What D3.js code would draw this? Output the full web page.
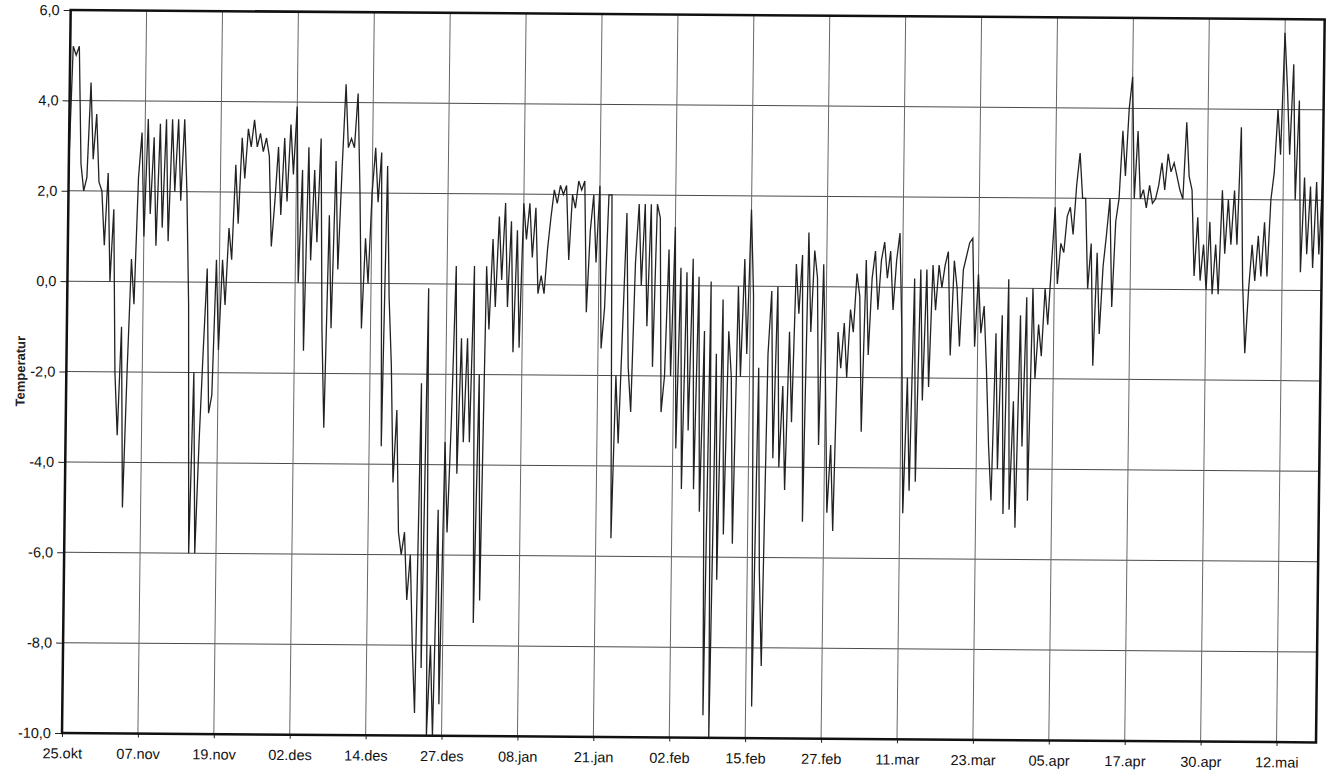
<!DOCTYPE html>
<html><head><meta charset="utf-8">
<script src="https://cdn.jsdelivr.net/npm/d3@7"></script>
<style>body{margin:0;background:#fff}svg{display:block}</style>
</head><body><svg id="c" width="1332" height="776"></svg>
<script>
// x tick labels, one every 12.5 days (every 25 samples)
const xTickLabels = ["25.okt","07.nov","19.nov","02.des","14.des","27.des","08.jan","21.jan","02.feb","15.feb","27.feb","11.mar","23.mar","05.apr","17.apr","30.apr","12.mai"];
const tickStepDays = 12.5;
const totalDays = 206.5;
const samplesPerDay = 2;
const yTickValues = [6,4,2,0,-2,-4,-6,-8,-10];
const yTitle = "Temperatur";

// temperature readings, two per day
const temperatur = [
 2.6,5.2,5.0,5.2,2.6,2.0,2.3,4.4,2.7,3.7,2.2,2.0,0.8,2.4,0.0,1.6,-2.0,-3.4,-1.0,-5.0,-2.0,0.5,-0.5,2.3,3.3,
 1.0,3.6,1.5,3.2,0.8,3.5,1.2,3.6,0.9,3.6,2.0,3.6,1.8,3.6,2.0,-0.5,-6.0,-2.0,-6.0,-3.5,-1.5,0.3,-2.9,-2.5,0.5,
 -1.5,0.5,-0.5,1.2,0.5,2.6,1.3,3.2,2.3,3.4,3.0,3.6,3.0,3.3,2.9,3.2,2.8,0.8,1.8,3.0,1.5,3.2,1.8,3.5,2.4,
 3.9,0.0,2.5,-1.5,3.0,0.5,2.5,0.9,3.2,-1.0,-3.2,1.5,-1.0,2.7,0.3,2.5,4.4,3.0,3.2,3.0,4.2,2.0,-1.0,1.0,0.0,
 2.0,3.0,1.8,2.9,-3.6,2.6,-0.3,-1.8,-4.4,-2.8,-5.5,-6.0,-5.5,-7.0,-6.0,-8.0,-9.5,-2.2,-8.5,-0.1,-10.0,-8.0,-10.0,-5.0,-9.3,
 -3.5,-5.5,-3.0,0.4,-4.2,-1.2,-3.5,-1.2,-3.5,0.4,-7.5,-2.0,-7.0,0.4,-1.0,1.0,-0.5,1.5,0.1,1.8,-0.5,1.4,-1.5,1.2,-1.4,
 1.8,1.0,1.8,0.6,1.7,-0.2,0.2,-0.2,0.8,1.5,2.1,1.8,2.2,2.0,2.2,0.55,2.0,1.7,2.3,2.1,2.3,-0.6,1.2,2.0,0.5,
 2.2,-1.4,-0.5,2.0,2.0,-5.6,-2.0,-3.5,-1.0,1.6,-1.8,-2.8,0.5,1.8,0.0,1.8,-0.9,1.8,-1.8,1.8,1.5,-2.8,-2.0,0.8,-2.0,
 1.3,-3.6,0.4,-4.5,0.3,-3.2,0.6,-4.5,0.2,-5.0,-1.0,-9.5,0.1,-10.0,-1.5,-6.5,-0.3,-5.5,-1.0,-2.0,-5.7,0.0,-2.0,0.6,-1.5,
 1.7,-0.2,-9.3,-1.8,-6.3,-8.4,-1.5,-0.1,-3.8,0.0,-4.0,-2.2,-4.5,-1.0,-3.0,0.5,-0.6,0.7,-5.2,1.2,-1.0,0.8,0.2,-3.5,0.5,
 -2.0,-5.0,-3.5,-5.4,-1.0,-1.8,-0.8,-2.0,-0.5,-1.0,0.3,-0.2,-3.2,0.6,-1.5,0.2,0.8,-0.5,0.6,1.0,0.2,0.8,-0.5,0.6,1.2,
 -1.0,-5.0,-2.0,-4.5,0.2,-4.3,0.4,-2.5,0.4,-2.2,0.5,-0.5,0.5,0.0,0.5,0.8,-1.5,0.6,0.0,-1.3,0.4,0.7,1.0,1.1,-1.3,
 0.3,-1.0,-0.4,-1.8,-3.5,-4.7,-1.0,-4.0,-0.6,-5.0,0.2,-4.9,-2.5,-5.3,-0.6,-3.5,-0.2,-4.7,0.0,-2.0,-0.8,-1.5,0.0,-0.8,0.5,
 1.8,0.1,1.0,0.8,1.6,1.8,1.2,2.3,3.0,2.0,2.0,0.0,1.0,-1.7,0.8,-1.0,0.5,1.2,2.0,-0.4,1.5,2.0,3.5,2.5,4.0,
 4.7,2.0,3.5,2.0,2.2,1.8,2.3,1.9,2.0,2.3,2.8,2.2,3.0,2.6,2.8,2.5,2.2,2.0,3.7,2.5,2.2,0.3,1.6,0.2,1.0,
 0.0,1.5,-0.1,1.0,-0.1,2.2,0.8,2.0,1.0,2.2,1.0,3.6,0.2,-1.4,0.0,1.0,0.2,1.2,0.3,1.5,0.3,2.0,2.6,4.0,3.0,
 5.7,4.5,3.0,5.0,2.0,4.2,0.4,2.5,0.8,2.3,0.5,2.4,0.8,2.5
];

const m = {left:62, right:1316, top:10, bottom:733};
const kh = 0.0075, kv = 0.012; // slight skew of the scanned page
const svg = d3.select("#c");
const g = svg.append("g")
  .attr("transform", `matrix(1,${kh},${-kv},1,${kv*m.bottom},${-kh*m.left})`);

const x = d3.scaleLinear().domain([0, totalDays]).range([m.left, m.right]);
const y = d3.scaleLinear().domain([-10, 6]).range([m.bottom, m.top]);
const xTickDays = xTickLabels.map((d,i)=>i*tickStepDays);
const fmt = d => (d<0?"-":"") + Math.abs(d).toFixed(1).replace(".", ",");
const font = "'Liberation Sans', Arial, sans-serif";

// gridlines
g.append("g").selectAll("line").data(yTickValues.filter(v=>v>-10 && v<6)).join("line")
  .attr("x1", m.left).attr("x2", m.right)
  .attr("y1", d=>y(d)).attr("y2", d=>y(d))
  .attr("stroke", "#4a4a4a").attr("stroke-width", 1);
g.append("g").selectAll("line").data(xTickDays.slice(1)).join("line")
  .attr("x1", d=>x(d)).attr("x2", d=>x(d))
  .attr("y1", m.top).attr("y2", m.bottom)
  .attr("stroke", "#666").attr("stroke-width", 1);

// data line
const line = d3.line().x((d,i)=>x(i/samplesPerDay)).y(d=>y(d));
g.append("path").datum(temperatur).attr("d", line)
  .attr("fill","none").attr("stroke","#222").attr("stroke-width",1.3)
  .attr("stroke-linejoin","miter");

// axes
const yAxis = d3.axisLeft(y).tickValues(yTickValues).tickFormat(fmt).tickSize(7).tickPadding(4);
const ya = g.append("g").attr("transform", `translate(${m.left},0)`).call(yAxis);
const xAxis = d3.axisBottom(x).tickValues(xTickDays).tickFormat((d,i)=>xTickLabels[i]).tickSize(4).tickPadding(11);
const xa = g.append("g").attr("transform", `translate(0,${m.bottom})`).call(xAxis);
[ya, xa].forEach(a => {
  a.select(".domain").remove();
  a.selectAll("line").attr("stroke","#222");
  a.selectAll("text").attr("fill","#111")
    .style("font-family", font).style("font-size","14.5px");
});

// frame
g.append("rect").attr("x", m.left).attr("y", m.top)
  .attr("width", m.right-m.left).attr("height", m.bottom-m.top)
  .attr("fill","none").attr("stroke","#111").attr("stroke-width",2.5);

// y title
g.append("text").attr("transform", `translate(16,${(m.top+m.bottom)/2}) rotate(-90)`)
  .attr("text-anchor","middle").attr("dy","0.35em")
  .style("font-family", font).style("font-size","13px")
  .style("font-weight","bold").attr("fill","#222").text(yTitle);
</script></body></html>
